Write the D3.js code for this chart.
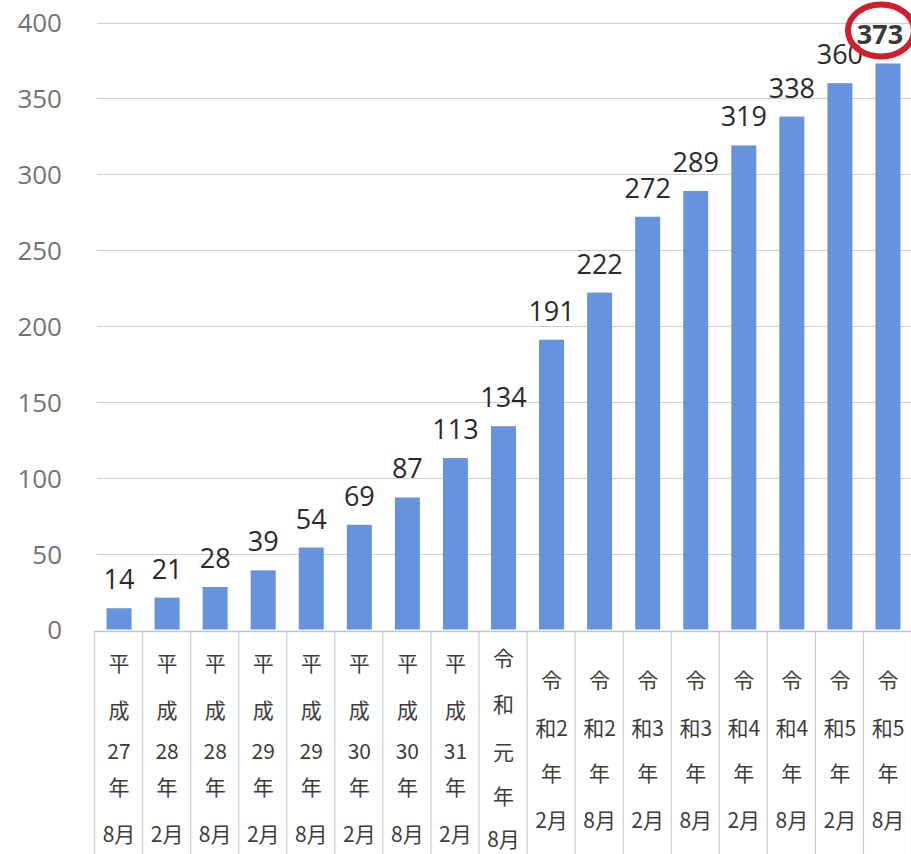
<!DOCTYPE html>
<html><head><meta charset="utf-8">
<script src="https://cdn.jsdelivr.net/npm/d3@7"></script>
<style>html,body{margin:0;padding:0;background:#fff;}svg{display:block;}</style>
</head><body>
<svg id="chart" width="911" height="854"></svg>
<script>
const categories = [
  ["平","成","27","年","8月"],
  ["平","成","28","年","2月"],
  ["平","成","28","年","8月"],
  ["平","成","29","年","2月"],
  ["平","成","29","年","8月"],
  ["平","成","30","年","2月"],
  ["平","成","30","年","8月"],
  ["平","成","31","年","2月"],
  ["令","和","元","年","8月"],
  ["令","和2","年","2月"],
  ["令","和2","年","8月"],
  ["令","和3","年","2月"],
  ["令","和3","年","8月"],
  ["令","和4","年","2月"],
  ["令","和4","年","8月"],
  ["令","和5","年","2月"],
  ["令","和5","年","8月"]
];
const values = [14, 21, 28, 39, 54, 69, 87, 113, 134, 191, 222, 272, 289, 319, 338, 360, 373];
const yTicks = [0, 50, 100, 150, 200, 250, 300, 350, 400];
const highlightIndex = 16;

const svg = d3.select("#chart");
const W = 911, H = 854;
const left = 94, right = 911;
const y0 = 629.5, yTop = 22.5;
const numFont = "'Open Sans', 'Noto Sans', sans-serif";

const x = d3.scaleBand().domain(d3.range(categories.length)).range([left, right]).paddingInner(0.48).paddingOuter(0.24);
const y = d3.scaleLinear().domain([0, 400]).range([y0, yTop]);
const bandW = x.step();
const bandStart = i => left + i * bandW;

// gridlines
svg.append("g").selectAll("line").data(yTicks.filter(d => d > 0)).join("line")
  .attr("x1", 97).attr("x2", W)
  .attr("y1", d => Math.round(y(d)) + 0.5).attr("y2", d => Math.round(y(d)) + 0.5)
  .attr("stroke", "#cfcfcf").attr("stroke-width", 1);

// y-axis labels
const yAxis = d3.axisLeft(y).tickValues(yTicks).tickSize(0).tickPadding(0);
const ya = svg.append("g").attr("transform", "translate(62,0)").call(yAxis);
ya.select(".domain").remove();
ya.selectAll("text")
  .attr("font-family", numFont)
  .attr("font-size", 26).attr("fill", "#737373").attr("dy", "0.36em");

// bars
const bw = 25;
svg.append("g").selectAll("rect").data(values).join("rect")
  .attr("x", (d, i) => x(i) + x.bandwidth() / 2 - bw / 2 + 1)
  .attr("width", bw)
  .attr("y", d => y(d))
  .attr("height", d => y0 - y(d))
  .attr("fill", "#6594dc");

// value labels
svg.append("g").selectAll("text").data(values).join("text")
  .attr("x", (d, i) => i === highlightIndex ? bandStart(i) + bandW / 2 - 7 : bandStart(i) + bandW / 2 + 1)
  .attr("y", d => y(d) - 19)
  .attr("text-anchor", "middle")
  .attr("font-family", numFont)
  .attr("font-size", (d, i) => i === highlightIndex ? 27 : 27)
  .attr("font-weight", (d, i) => i === highlightIndex ? "bold" : "normal")
  .attr("fill", (d, i) => i === highlightIndex ? "#3a3a3a" : "#2a2a2a")
  .text(d => d);

// highlight ellipse
svg.append("ellipse")
  .attr("cx", bandStart(highlightIndex) + bandW / 2 - 6)
  .attr("cy", y(values[highlightIndex]) - 33)
  .attr("rx", 33).attr("ry", 26)
  .attr("fill", "none").attr("stroke", "#cf1f2a").attr("stroke-width", 6);

// category box lines
const boxTop = 631.5;
svg.append("line").attr("x1", left).attr("x2", W).attr("y1", boxTop).attr("y2", boxTop)
  .attr("stroke", "#c4c4c4").attr("stroke-width", 1.5);
svg.append("g").selectAll("line").data(d3.range(categories.length + 1)).join("line")
  .attr("x1", i => bandStart(i) + 0.5).attr("x2", i => bandStart(i) + 0.5)
  .attr("y1", boxTop).attr("y2", H)
  .attr("stroke", "#cdcdcd").attr("stroke-width", 1.2);

// category labels
const rowLayouts = {
  heisei: [663, 710, 751, 787, 834],
  reiwa5: [658, 704, 752, 796, 839],
  reiwa4: [680, 728, 773, 820]
};
const cg = svg.append("g");
categories.forEach((lines, i) => {
  const key = lines.length === 4 ? "reiwa4" : (lines[0] === "令" ? "reiwa5" : "heisei");
  const rows = rowLayouts[key];
  lines.forEach((t, j) => {
    cg.append("text")
      .attr("x", bandStart(i) + bandW / 2 + 1)
      .attr("y", rows[j])
      .attr("dy", "0.36em")
      .attr("text-anchor", "middle")
      .attr("font-family", "'Noto Sans CJK JP', sans-serif")
      .attr("font-size", 21)
      .attr("fill", "#3c3c3c")
      .text(t);
  });
});
</script>
</body></html>
